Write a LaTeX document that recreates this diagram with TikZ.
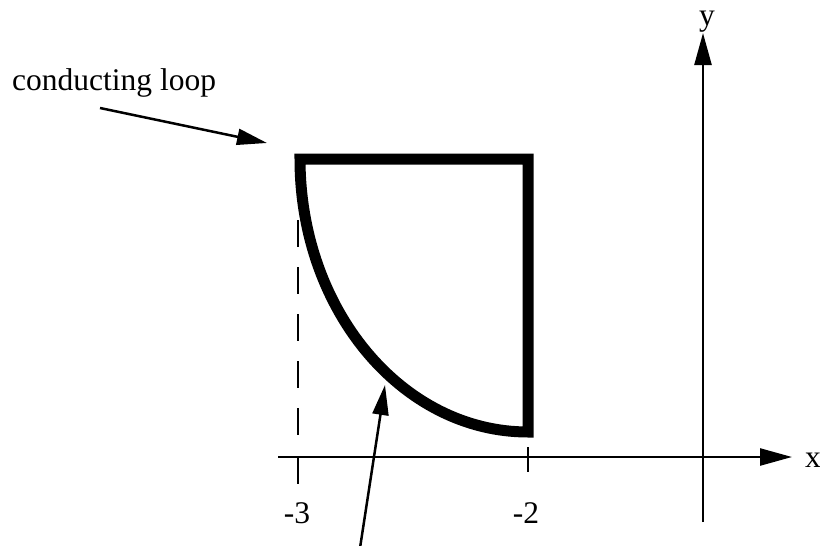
\documentclass[tikz,border=0pt]{standalone}
\usepackage{fontspec}
\setmainfont{Liberation Serif}
\usetikzlibrary{arrows.meta}

\begin{document}
\begin{tikzpicture}[
  x=1pt, y=-1pt,
  % Line styles
  wire/.style={line width=11pt, line join=miter},
  axis/.style={line width=2.5pt, -{Triangle[length=32pt, width=17pt]}},
  pointer/.style={line width=2.5pt, -{Triangle[length=30pt, width=16pt]}},
  guide/.style={line width=2pt, dash pattern=on 27pt off 20pt},
  tickmark/.style={line width=2pt},
  % Label style
  lbl/.style={font=\fontsize{31.5}{38}\selectfont, inner sep=0pt},
]
\useasboundingbox (0,0) rectangle (820,546);

% === AXES ===
\coordinate (O)     at (703,457);
\coordinate (xfrom) at (278,457);
\coordinate (xto)   at (792,457);
\coordinate (yfrom) at (703,522);
\coordinate (yto)   at (703,33);
\draw[axis] (xfrom) -- (xto);
\draw[axis] (yfrom) -- (yto);
\node[lbl, anchor=base] (xlab) at (813,467) {x};
\node[lbl, anchor=base] (ylab) at (707,25)  {y};

% === TICKS ===
\coordinate (m3top) at (298,457);
\coordinate (m3bot) at (298,484);
\coordinate (m2top) at (528,447);
\coordinate (m2bot) at (528,472);
\draw[tickmark] (m3top) -- (m3bot);
\draw[tickmark] (m2top) -- (m2bot);
\node[lbl, anchor=base] (m3) at (297,523) {-3};
\node[lbl, anchor=base] (m2) at (526,523) {-2};

% === GUIDE at x = -3 ===
\coordinate (gtop) at (298,173);
\coordinate (gbot) at (298,436);
\draw[guide] (gtop) -- (gbot);

% === CONDUCTING LOOP ===
\coordinate (TL) at (300,159);
\coordinate (TR) at (528,159);
\coordinate (BR) at (528,432);
\draw[wire] (TL) -- (TR) -- (BR)
  arc[start angle=90, end angle=180, x radius=228, y radius=273] -- cycle;

% === POINTERS ===
\node[lbl, anchor=base west] (looplab) at (12,90) {conducting loop};
\coordinate (ptrA)  at (100,108);
\coordinate (ptrAt) at (267,143);
\draw[pointer] (ptrA) -- (ptrAt);
\coordinate (ptrB)  at (360,548);
\coordinate (ptrBt) at (385,385);
\draw[pointer] (ptrB) -- (ptrBt);

\end{tikzpicture}
\end{document}
